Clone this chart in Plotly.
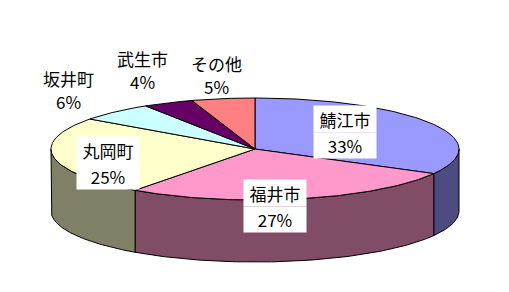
import math
import plotly.graph_objects as go

# ---- data ----
labels = ["鯖江市", "福井市", "丸岡町", "坂井町", "武生市", "その他"]
values = [33, 27, 25, 6, 4, 5]
top_colors = ["#9999FF", "#FF99CC", "#FFFFCC", "#CCFFFF", "#660066", "#FF8080"]
side_colors = ["#4C4C80", "#804C66", "#808066", "#668080", "#330033", "#804040"]

# ---- geometry (layout, pixels) ----
W, H = 509, 292
CX, CY = 255, 149
RX, RY = 204, 51
DEPTH = 62
label_pos = [(345, 132), (275, 206), (108, 163), (68, 90), (142, 70), (216, 75)]
label_bg = [True, True, True, False, False, False]
FONT = dict(family="Noto Sans CJK JP", size=17, color="black")
LINE_GAP = 11.5
BOX_W, BOX_HALF_H = 62, 25


def pt(theta_deg, dy=0.0):
    t = math.radians(theta_deg)
    return CX + RX * math.sin(t), CY - RY * math.cos(t) + dy


def arc(a0, a1, dy=0.0, step=1.0):
    n = max(2, int(abs(a1 - a0) / step) + 1)
    xs, ys = [], []
    for i in range(n + 1):
        a = a0 + (a1 - a0) * i / n
        x, y = pt(a, dy)
        xs.append(x)
        ys.append(y)
    return xs, ys


total = sum(values)
angles = []
acc = 0.0
for v in values:
    a0 = acc / total * 360.0
    acc += v
    a1 = acc / total * 360.0
    angles.append((a0, a1))

fig = go.Figure()

# side walls (front half: 90..270 degrees)
for (a0, a1), c in zip(angles, side_colors):
    s0, s1 = max(a0, 90.0), min(a1, 270.0)
    if s1 <= s0:
        continue
    xt, yt = arc(s0, s1)
    xb, yb = arc(s1, s0, DEPTH)
    xs = xt + xb + [xt[0]]
    ys = yt + yb + [yt[0]]
    fig.add_trace(go.Scatter(x=xs, y=ys, mode="lines", fill="toself",
                             fillcolor=c, line=dict(color="black", width=1),
                             hoverinfo="skip"))

# top faces
for (a0, a1), c in zip(angles, top_colors):
    xa, ya = arc(a0, a1)
    xs = [CX] + xa + [CX]
    ys = [CY] + ya + [CY]
    fig.add_trace(go.Scatter(x=xs, y=ys, mode="lines", fill="toself",
                             fillcolor=c, line=dict(color="black", width=1),
                             hoverinfo="skip"))

annotations = []
for lab, v, (lx, ly), bg in zip(labels, values, label_pos, label_bg):
    pct = round(v / total * 100)
    if bg:
        annotations.append(dict(
            x=lx, y=ly + 1, xref="x", yref="y", yanchor="bottom", showarrow=False,
            text=lab, font=FONT, bgcolor="white", borderpad=0,
            width=BOX_W, height=BOX_HALF_H + 1, valign="bottom", align="center",
        ))
        annotations.append(dict(
            x=lx, y=ly, xref="x", yref="y", yanchor="top", showarrow=False,
            text=f"{pct}%", font=FONT, bgcolor="white", borderpad=0,
            width=BOX_W, height=BOX_HALF_H, valign="top", align="center",
        ))
    else:
        annotations.append(dict(
            x=lx, y=ly - LINE_GAP, xref="x", yref="y", showarrow=False,
            text=lab, font=FONT, borderpad=0, align="center",
        ))
        annotations.append(dict(
            x=lx, y=ly + LINE_GAP, xref="x", yref="y", showarrow=False,
            text=f"{pct}%", font=FONT, borderpad=0, align="center",
        ))

fig.update_layout(
    width=W, height=H,
    margin=dict(l=0, r=0, t=0, b=0),
    paper_bgcolor="white", plot_bgcolor="white",
    showlegend=False,
    xaxis=dict(range=[0, W], visible=False, fixedrange=True),
    yaxis=dict(range=[H, 0], visible=False, fixedrange=True),
    annotations=annotations,
)

fig.write_html("out.html")
